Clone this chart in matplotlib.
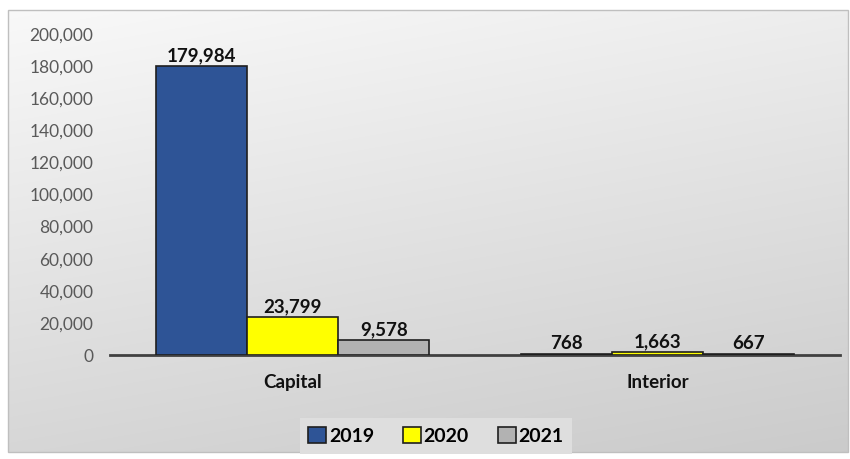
import numpy as np
import matplotlib
matplotlib.use("Agg")
import matplotlib.pyplot as plt
from matplotlib.patches import Rectangle

categories = ["Capital", "Interior"]
years = ["2019", "2020", "2021"]
values_2019 = [179984, 768]
values_2020 = [23799, 1663]
values_2021 = [9578, 667]
yticks = [0, 20000, 40000, 60000, 80000, 100000, 120000, 140000, 160000, 180000, 200000]

series = [values_2019, values_2020, values_2021]
colors = ["#2E5496", "#FFFF00", "#B2B2B2"]

plt.rcParams['font.family'] = ['Lato', 'DejaVu Sans']

fig = plt.figure(figsize=(8.5, 4.59), dpi=100)

# background gradient
bg = fig.add_axes([0, 0, 1, 1], zorder=-10)
h, w = 200, 400
yy, xx = np.mgrid[0:h, 0:w]
t = 0.75 * (yy / h) + 0.25 * (xx / w)
g = 0.975 - 0.18 * t
img = np.dstack([g, g, g])
bg.imshow(img, extent=[8, 848, 452, 10], aspect='auto', interpolation='bilinear')
bg.add_patch(Rectangle((8, 10), 840, 442, fill=False, edgecolor="#BFBFBF", lw=1))
bg.set_xlim(0, 850)
bg.set_ylim(459, 0)
bg.axis('off')

ax = fig.add_axes([110/850, 1-355/459, 730/850, (355-34)/459])
ax.patch.set_alpha(0)
x = np.arange(len(categories))
bw = 0.25
for i, (vals, c, yr) in enumerate(zip(series, colors, years)):
    pos = x + (i - 1) * bw
    bars = ax.bar(pos, vals, width=bw, color=c, edgecolor="#1F1F1F", linewidth=1.2, label=yr, zorder=3)
    for b, v in zip(bars, vals):
        ax.text(b.get_x() + b.get_width()/2, v + 1000, f"{v:,}", ha='center', va='bottom',
                fontsize=13.5, fontweight='bold', color='#111111')

ax.set_xlim(-0.5, 1.5)
ax.set_ylim(0, 200000)
ax.set_yticks(yticks)
ax.set_yticklabels([f"{v:,}" for v in yticks], fontsize=12.5, color="#595959")
ax.set_xticks(x)
ax.set_xticklabels(categories, fontsize=13.5, fontweight='bold', color='#111111')
ax.tick_params(axis='y', length=0, pad=12)
ax.tick_params(axis='x', length=0, pad=14)
for s in ['top', 'right', 'left']:
    ax.spines[s].set_visible(False)
ax.spines['bottom'].set_color('#404040')
ax.spines['bottom'].set_linewidth(2)

leg = fig.legend(loc='center', bbox_to_anchor=(436/850, 1-436/459), ncol=3, frameon=True,
                 prop={'size': 14, 'weight': 'bold'}, handlelength=0.9, handleheight=0.9,
                 handletextpad=0.15, columnspacing=1.5, borderpad=0.45, fancybox=False)
leg.get_frame().set_facecolor('#DEDEDE')
leg.get_frame().set_edgecolor('none')
leg.get_frame().set_alpha(1)

fig.savefig("out.png", dpi=100)
